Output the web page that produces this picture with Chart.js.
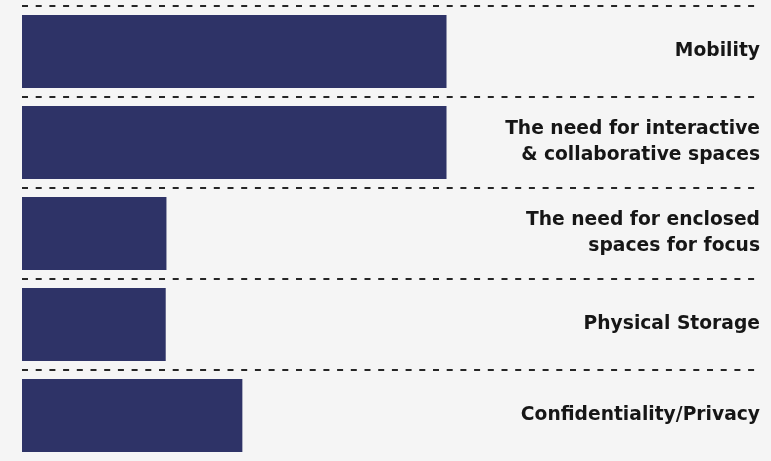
<!DOCTYPE html>
<html>
<head>
<meta charset="utf-8">
<script src="https://cdn.jsdelivr.net/npm/chart.js@4"></script>
<style>
  html, body { margin: 0; padding: 0; background: #f5f5f5; }
  #wrap { width: 771px; height: 461px; position: relative; }
</style>
</head>
<body>
<div id="wrap"><canvas id="c"></canvas></div>
<script>
const categories = [
  "Mobility",
  ["The need for interactive", "& collaborative spaces"],
  ["The need for enclosed", "spaces for focus"],
  "Physical Storage",
  "Confidentiality/Privacy"
];
const values = [57.6, 57.6, 19.6, 19.5, 29.9];
const xMin = 0;
const xMax = 100;

new Chart(document.getElementById('c'), {
  type: 'bar',
  data: {
    labels: categories,
    datasets: [{
      data: values,
      backgroundColor: '#2e3367',
      borderWidth: 0,
      barPercentage: 0.8,
      categoryPercentage: 1
    }]
  },
  options: {
    indexAxis: 'y',
    responsive: true,
    maintainAspectRatio: false,
    animation: false,
    layout: { padding: { left: 22, right: 10, top: 6, bottom: 0 } },
    plugins: { legend: { display: false }, tooltip: { enabled: false } },
    scales: {
      x: { display: false, min: xMin, max: xMax },
      y: {
        position: 'right',
        afterFit: (scale) => { scale.paddingTop = 0; scale.paddingBottom = 0; },
        grid: {
          offset: true,
          drawTicks: false,
          lineWidth: 2,
          color: (ctx) => ctx.tick ? '#262626' : 'rgba(0,0,0,0)'
        },
        border: { display: false, dash: [6, 7.7] },
        ticks: {
          mirror: true,
          padding: 1,
          color: '#161616',
          font: { family: 'DejaVu Sans', weight: 'bold', size: 18.7, lineHeight: 1.38 }
        }
      }
    }
  }
});
</script>
</body>
</html>
